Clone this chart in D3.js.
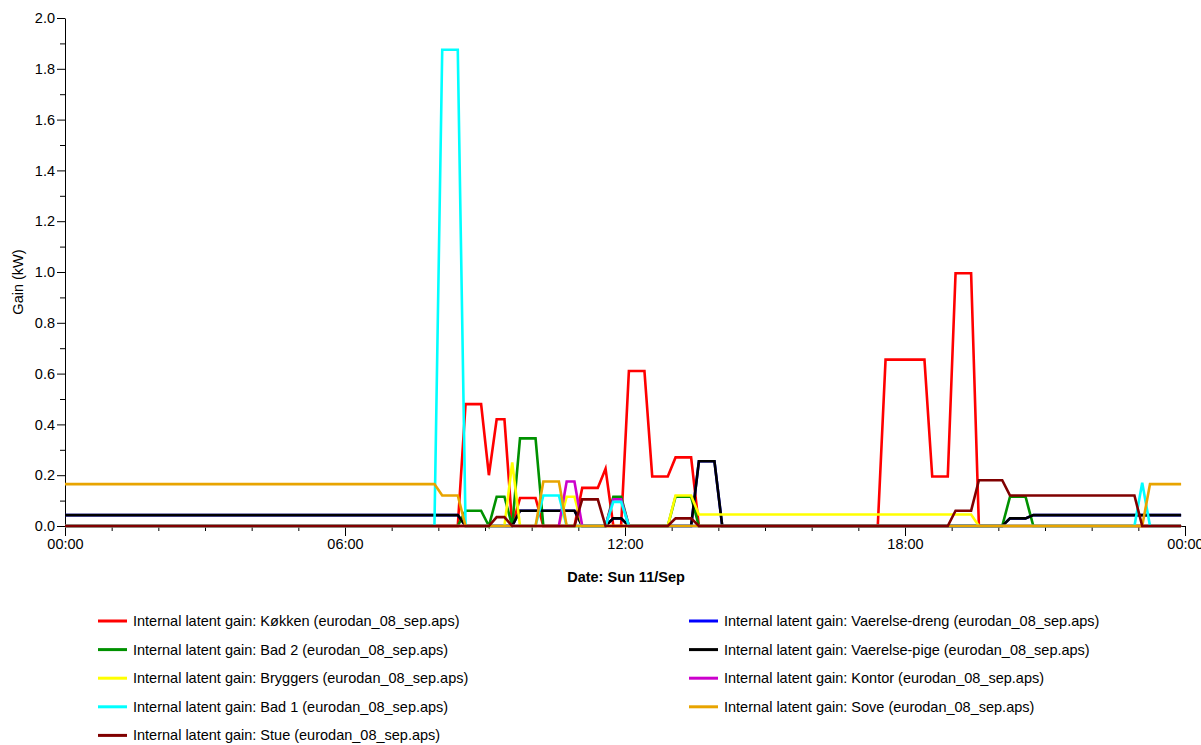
<!DOCTYPE html>
<html>
<head>
<meta charset="utf-8">
<script src="https://cdn.jsdelivr.net/npm/d3@7"></script>
<style>
  html, body { margin: 0; padding: 0; background: #fff; }
  svg { display: block; font-family: "Liberation Sans", Arial, sans-serif; }
</style>
</head>
<body>
<svg id="chart" width="1201" height="745"></svg>
<script>
// ---- Data (time of day "HH:MM", latent gain kW) ----
const kokken = [["00:00",0],["08:25",0],["08:35",0.48],["08:55",0.48],["09:05",0.2],["09:15",0.42],["09:25",0.42],["09:35",0],["09:45",0.11],["10:05",0.11],["10:15",0],["10:55",0],["11:05",0.15],["11:25",0.15],["11:35",0.225],["11:45",0],["11:55",0],["12:05",0.61],["12:25",0.61],["12:35",0.195],["12:55",0.195],["13:05",0.27],["13:25",0.27],["13:35",0],["17:25",0],["17:35",0.655],["18:25",0.655],["18:35",0.195],["18:55",0.195],["19:05",0.995],["19:25",0.995],["19:35",0],["23:55",0]];
const vaerelseDreng = [["00:00",0.043],["08:25",0.043],["08:35",0],["09:35",0],["09:45",0.06],["10:55",0.06],["11:05",0],["11:35",0],["11:45",0.03],["11:55",0.03],["12:05",0],["13:25",0],["13:35",0.255],["13:55",0.255],["14:05",0],["20:05",0],["20:15",0.03],["20:35",0.03],["20:45",0.043],["23:55",0.043]];
const bad2 = [["00:00",0],["08:25",0],["08:35",0.06],["08:55",0.06],["09:05",0],["09:15",0.115],["09:25",0.115],["09:35",0],["09:45",0.345],["10:05",0.345],["10:15",0],["11:35",0],["11:45",0.115],["11:55",0.115],["12:05",0],["12:55",0],["13:05",0.115],["13:25",0.115],["13:35",0],["20:05",0],["20:15",0.115],["20:35",0.115],["20:45",0],["23:55",0]];
const vaerelsePige = [["00:00",0.043],["08:25",0.043],["08:35",0],["09:35",0],["09:45",0.06],["10:55",0.06],["11:05",0],["11:35",0],["11:45",0.03],["11:55",0.03],["12:05",0],["13:25",0],["13:35",0.255],["13:55",0.255],["14:05",0],["20:05",0],["20:15",0.03],["20:35",0.03],["20:45",0.043],["23:55",0.043]];
const bryggers = [["00:00",0],["09:25",0],["09:35",0.25],["09:45",0],["10:35",0],["10:45",0.115],["10:55",0.115],["11:05",0],["12:55",0],["13:05",0.12],["13:25",0.12],["13:35",0.045],["19:25",0.045],["19:35",0],["23:55",0]];
const kontor = [["00:00",0],["10:35",0],["10:45",0.175],["10:55",0.175],["11:05",0],["11:35",0],["11:45",0.105],["11:55",0.105],["12:05",0],["23:55",0]];
const bad1 = [["00:00",0],["07:55",0],["08:05",1.875],["08:25",1.875],["08:35",0],["10:05",0],["10:15",0.12],["10:35",0.12],["10:45",0],["11:35",0],["11:45",0.095],["11:55",0.095],["12:05",0],["22:55",0],["23:05",0.17],["23:15",0],["23:55",0]];
const sove = [["00:00",0.165],["07:55",0.165],["08:05",0.12],["08:25",0.12],["08:35",0],["10:05",0],["10:15",0.175],["10:35",0.175],["10:45",0],["23:05",0],["23:15",0.165],["23:55",0.165]];
const stue = [["00:00",0],["09:05",0],["09:15",0.035],["09:25",0.035],["09:35",0],["10:55",0],["11:05",0.105],["11:25",0.105],["11:35",0],["12:55",0],["13:05",0.03],["13:25",0.03],["13:35",0],["18:55",0],["19:05",0.06],["19:25",0.06],["19:35",0.18],["20:05",0.18],["20:15",0.12],["22:55",0.12],["23:05",0],["23:55",0]];

const seriesNames = ["Køkken","Værelse-dreng","Bad 2","Værelse-pige","Bryggers","Kontor","Bad 1","Sove","Stue"];
const seriesData  = [kokken, vaerelseDreng, bad2, vaerelsePige, bryggers, kontor, bad1, sove, stue];
const seriesColors = ["#ff0000","#0000ff","#009100","#000000","#ffff00","#cc00cc","#00ffff","#e8a400","#800000"];
const legendLabels = {
  "Køkken":"Internal latent gain: Køkken (eurodan_08_sep.aps)",
  "Værelse-dreng":"Internal latent gain: Vaerelse-dreng (eurodan_08_sep.aps)",
  "Bad 2":"Internal latent gain: Bad 2 (eurodan_08_sep.aps)",
  "Værelse-pige":"Internal latent gain: Vaerelse-pige (eurodan_08_sep.aps)",
  "Bryggers":"Internal latent gain: Bryggers (eurodan_08_sep.aps)",
  "Kontor":"Internal latent gain: Kontor (eurodan_08_sep.aps)",
  "Bad 1":"Internal latent gain: Bad 1 (eurodan_08_sep.aps)",
  "Sove":"Internal latent gain: Sove (eurodan_08_sep.aps)",
  "Stue":"Internal latent gain: Stue (eurodan_08_sep.aps)"
};
const legendLeft  = ["Køkken","Bad 2","Bryggers","Bad 1","Stue"];
const legendRight = ["Værelse-dreng","Værelse-pige","Kontor","Sove"];
const yTicks = [0,0.2,0.4,0.6,0.8,1.0,1.2,1.4,1.6,1.8,2.0];
const yTitle = "Gain (kW)";
const xTitle = "Date: Sun 11/Sep";

// ---- Chart ----
const svg = d3.select("#chart");
const day0 = new Date(2011, 8, 11, 0, 0);
const day1 = new Date(2011, 8, 12, 0, 0);
const parseT = t => { const [h,m] = t.split(":").map(Number); return new Date(2011, 8, 11, h, m); };

const x = d3.scaleTime().domain([day0, day1]).range([65, 1185]);
const y = d3.scaleLinear().domain([0, 2]).range([526, 18]);
const FS = "14.5px";

// y axis
const yAxis = svg.append("g").attr("transform", "translate(65,0)")
  .call(d3.axisLeft(y).tickValues(yTicks).tickFormat(d3.format(".1f")).tickSizeInner(8).tickSizeOuter(0).tickPadding(2));
svg.append("g").attr("transform", "translate(65,0)")
  .call(d3.axisLeft(y).tickValues(d3.range(1, 20, 2).map(v => v / 10)).tickFormat("").tickSizeInner(5).tickSizeOuter(0))
  .select(".domain").remove();

// x axis
svg.append("g").attr("transform", "translate(0,526)")
  .call(d3.axisBottom(x).ticks(d3.timeHour.every(6)).tickFormat(d3.timeFormat("%H:%M")).tickSizeInner(10).tickSizeOuter(0).tickPadding(3));
svg.append("g").attr("transform", "translate(0,526)")
  .call(d3.axisBottom(x).ticks(d3.timeHour.every(1)).tickFormat("").tickSizeInner(5).tickSizeOuter(0))
  .select(".domain").remove();

svg.selectAll(".tick text").attr("font-size", FS).attr("font-family", "Liberation Sans, Arial, sans-serif").attr("fill", "#000");
svg.selectAll(".domain, .tick line").attr("stroke", "#000");

// titles
svg.append("text").attr("transform", "translate(23,282) rotate(-90)").attr("text-anchor", "middle")
  .attr("font-size", FS).text(yTitle);
svg.append("text").attr("x", 626).attr("y", 582).attr("text-anchor", "middle")
  .attr("font-size", FS).attr("font-weight", "bold").text(xTitle);

// lines
const line = d3.line().x(d => x(parseT(d[0]))).y(d => y(d[1]));
seriesData.forEach((data, i) => {
  svg.append("path").datum(data)
    .attr("fill", "none").attr("stroke", seriesColors[i]).attr("stroke-width", 2.6)
    .attr("stroke-linejoin", "miter").attr("d", line);
});

// legend
const colorOf = name => seriesColors[seriesNames.indexOf(name)];
function legendCol(names, x0, y0) {
  names.forEach((n, i) => {
    const yy = y0 + i * 28.6;
    svg.append("line").attr("x1", x0).attr("x2", x0 + 29).attr("y1", yy).attr("y2", yy)
      .attr("stroke", colorOf(n)).attr("stroke-width", 3);
    svg.append("text").attr("x", x0 + 35).attr("y", yy + 5).attr("font-size", FS).attr("fill", "#000").text(legendLabels[n]);
  });
}
legendCol(legendLeft, 98, 621);
legendCol(legendRight, 689, 621);
</script>
</body>
</html>
